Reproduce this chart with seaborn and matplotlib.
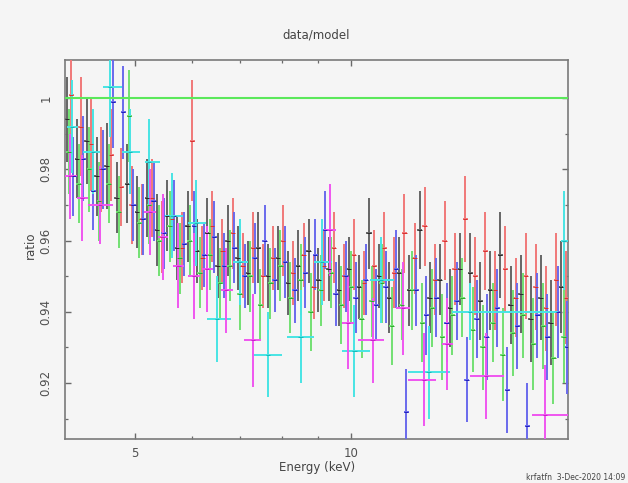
import numpy as np
import pandas as pd
import seaborn as sns
import matplotlib.pyplot as plt

# Data (energy in keV, ratio = data/model)
black_e = [4.03, 4.16, 4.29, 4.43, 4.57, 4.72, 4.88, 5.04, 5.20, 5.37,
           5.55, 5.73, 5.92, 6.11, 6.31, 6.52, 6.73, 6.95, 7.18, 7.42,
           7.66, 7.91, 8.17, 8.44, 8.72, 9.00, 9.30, 9.60, 9.92, 10.24,
           10.58, 10.93, 11.29, 11.66, 12.04, 12.44, 12.85, 13.27, 13.71, 14.16,
           14.62, 15.10, 15.60, 16.11, 16.64, 17.19, 17.75, 18.34, 18.94, 19.56]
black_r = [0.994, 0.983, 0.988, 0.978, 0.981, 0.972, 0.976, 0.968, 0.972, 0.963,
           0.967, 0.958, 0.964, 0.957, 0.962, 0.953, 0.960, 0.955, 0.951, 0.958,
           0.950, 0.955, 0.948, 0.953, 0.957, 0.949, 0.952, 0.946, 0.952, 0.947,
           0.962, 0.950, 0.944, 0.951, 0.946, 0.963, 0.944, 0.949, 0.941, 0.952,
           0.951, 0.943, 0.946, 0.956, 0.942, 0.945, 0.938, 0.944, 0.937, 0.947]
black_err = [0.012, 0.011, 0.012, 0.011, 0.012, 0.010, 0.011, 0.010, 0.011, 0.010,
             0.010, 0.009, 0.010, 0.009, 0.010, 0.009, 0.010, 0.009, 0.009, 0.010,
             0.009, 0.009, 0.009, 0.010, 0.009, 0.009, 0.009, 0.010, 0.009, 0.009,
             0.010, 0.009, 0.010, 0.010, 0.010, 0.011, 0.010, 0.010, 0.011, 0.010,
             0.011, 0.011, 0.011, 0.012, 0.011, 0.011, 0.012, 0.012, 0.012, 0.013]

red_e = [4.08, 4.21, 4.35, 4.49, 4.64, 4.79, 4.95, 5.11, 5.28, 5.45,
         5.63, 5.82, 6.01, 6.21, 6.41, 6.62, 6.84, 7.06, 7.30, 7.54,
         7.78, 8.04, 8.30, 8.58, 8.86, 9.15, 9.45, 9.76, 10.08, 10.41,
         10.76, 11.11, 11.47, 11.85, 12.24, 12.64, 13.06, 13.49, 13.93, 14.39,
         14.86, 15.35, 15.85, 16.37, 16.91, 17.47, 18.04, 18.63, 19.25, 19.88]
red_r = [1.001, 0.992, 0.987, 0.980, 0.984, 0.975, 0.970, 0.966, 0.972, 0.961,
         0.966, 0.958, 0.988, 0.955, 0.964, 0.957, 0.962, 0.953, 0.958, 0.950,
         0.955, 0.960, 0.951, 0.956, 0.947, 0.953, 0.958, 0.950, 0.956, 0.948,
         0.953, 0.958, 0.951, 0.962, 0.955, 0.964, 0.949, 0.960, 0.952, 0.966,
         0.950, 0.957, 0.946, 0.952, 0.944, 0.950, 0.947, 0.941, 0.949, 0.944]
red_err = [0.015, 0.014, 0.013, 0.012, 0.013, 0.011, 0.011, 0.010, 0.011, 0.010,
           0.010, 0.010, 0.017, 0.009, 0.010, 0.009, 0.010, 0.009, 0.010, 0.009,
           0.009, 0.010, 0.009, 0.009, 0.009, 0.010, 0.010, 0.009, 0.010, 0.009,
           0.010, 0.010, 0.010, 0.011, 0.010, 0.011, 0.010, 0.011, 0.010, 0.012,
           0.011, 0.011, 0.011, 0.012, 0.011, 0.012, 0.012, 0.012, 0.013, 0.013]

green_e = [4.05, 4.18, 4.32, 4.46, 4.60, 4.75, 4.91, 5.07, 5.24, 5.41,
           5.59, 5.77, 5.96, 6.16, 6.36, 6.57, 6.78, 7.00, 7.23, 7.47,
           7.72, 7.97, 8.23, 8.50, 8.78, 9.07, 9.37, 9.68, 10.00, 10.33,
           10.67, 11.02, 11.38, 11.75, 12.14, 12.54, 12.95, 13.38, 13.82, 14.27,
           14.74, 15.22, 15.72, 16.24, 16.77, 17.32, 17.89, 18.48, 19.09, 19.72]
green_r = [0.985, 0.976, 0.980, 0.971, 0.976, 0.968, 0.995, 0.965, 0.970, 0.960,
           0.964, 0.955, 0.960, 0.951, 0.956, 0.948, 0.953, 0.945, 0.950, 0.942,
           0.948, 0.953, 0.944, 0.949, 0.940, 0.946, 0.951, 0.942, 0.947, 0.938,
           0.943, 0.948, 0.936, 0.942, 0.946, 0.937, 0.941, 0.933, 0.939, 0.944,
           0.935, 0.930, 0.937, 0.928, 0.934, 0.939, 0.931, 0.936, 0.927, 0.933]
green_err = [0.012, 0.011, 0.012, 0.011, 0.011, 0.010, 0.013, 0.010, 0.011, 0.010,
             0.010, 0.010, 0.010, 0.010, 0.010, 0.010, 0.010, 0.010, 0.010, 0.010,
             0.010, 0.010, 0.010, 0.010, 0.011, 0.010, 0.010, 0.011, 0.010, 0.011,
             0.010, 0.011, 0.011, 0.010, 0.011, 0.011, 0.011, 0.012, 0.011, 0.011,
             0.012, 0.012, 0.011, 0.013, 0.012, 0.012, 0.013, 0.012, 0.013, 0.013]

blue_e = [4.11, 4.24, 4.38, 4.52, 4.67, 4.82, 4.98, 5.14, 5.31, 5.49,
          5.67, 5.86, 6.05, 6.25, 6.45, 6.66, 6.88, 7.11, 7.34, 7.58,
          7.83, 8.09, 8.35, 8.63, 8.91, 9.20, 9.51, 9.82, 10.14, 10.47,
          10.82, 11.17, 11.54, 11.92, 12.31, 12.71, 13.13, 13.56, 14.01, 14.47,
          14.94, 15.43, 15.94, 16.46, 17.00, 17.56, 18.14, 18.73, 19.35, 19.95]
blue_r = [0.978, 0.983, 0.974, 0.980, 0.999, 0.996, 0.970, 0.966, 0.971, 0.962,
          0.967, 0.959, 0.964, 0.956, 0.961, 0.953, 0.958, 0.950, 0.955, 0.960,
          0.949, 0.954, 0.946, 0.951, 0.956, 0.963, 0.945, 0.950, 0.944, 0.949,
          0.942, 0.947, 0.952, 0.912, 0.946, 0.939, 0.944, 0.937, 0.943, 0.921,
          0.938, 0.933, 0.941, 0.918, 0.936, 0.908, 0.939, 0.933, 0.940, 0.930]
blue_err = [0.011, 0.012, 0.011, 0.011, 0.013, 0.013, 0.010, 0.010, 0.011, 0.010,
            0.010, 0.009, 0.010, 0.009, 0.010, 0.009, 0.010, 0.009, 0.010, 0.010,
            0.009, 0.010, 0.009, 0.010, 0.010, 0.011, 0.009, 0.010, 0.010, 0.010,
            0.010, 0.010, 0.011, 0.012, 0.010, 0.011, 0.011, 0.011, 0.011, 0.012,
            0.011, 0.012, 0.011, 0.012, 0.012, 0.012, 0.012, 0.012, 0.013, 0.013]

# cyan and magenta have wide bins: centre, bin low edge, bin high edge
cyan_e = [4.09, 4.37, 4.62, 4.92, 5.24, 5.64, 6.09, 6.50, 7.00, 7.66,
          8.50, 9.10, 10.10, 11.00, 12.80, 14.60, 19.76]
cyan_lo = [4.02, 4.24, 4.51, 4.80, 5.16, 5.50, 5.92, 6.30, 6.84, 7.33,
           8.15, 8.86, 9.70, 10.60, 12.00, 13.80, 19.55]
cyan_hi = [4.17, 4.47, 4.80, 5.08, 5.42, 5.84, 6.28, 6.80, 7.18, 8.00,
           8.86, 9.40, 10.60, 11.45, 13.70, 19.40, 20.00]
cyan_r = [0.992, 0.985, 1.003, 0.985, 0.982, 0.967, 0.965, 0.938, 0.954, 0.928,
          0.933, 0.954, 0.929, 0.949, 0.923, 0.940, 0.960]
cyan_err = [0.013, 0.012, 0.014, 0.012, 0.012, 0.012, 0.012, 0.012, 0.012, 0.012,
            0.013, 0.012, 0.013, 0.012, 0.013, 0.008, 0.014]

magenta_e = [4.06, 4.22, 4.47, 5.25, 5.47, 5.75, 6.04, 6.30, 6.70, 7.30,
             9.33, 9.90, 10.70, 11.80, 12.60, 13.60, 15.40, 18.60]
magenta_lo = [4.00, 4.15, 4.30, 5.15, 5.38, 5.65, 5.92, 6.20, 6.58, 7.10,
              9.15, 9.70, 10.20, 11.55, 12.00, 13.35, 14.60, 17.80]
magenta_hi = [4.15, 4.30, 4.66, 5.36, 5.56, 5.86, 6.16, 6.42, 6.84, 7.50,
              9.52, 10.10, 11.10, 12.05, 13.10, 13.85, 16.30, 20.00]
magenta_r = [0.978, 0.972, 0.970, 0.968, 0.961, 0.953, 0.950, 0.952, 0.946, 0.932,
             0.963, 0.937, 0.932, 0.941, 0.921, 0.931, 0.922, 0.911]
magenta_err = [0.012, 0.012, 0.011, 0.012, 0.012, 0.012, 0.012, 0.012, 0.012, 0.013,
               0.013, 0.013, 0.012, 0.013, 0.013, 0.013, 0.012, 0.014]

groups = ["black", "red", "green", "blue", "cyan", "magenta"]
bar_colors = {"black": "#666666", "red": "#f07878", "green": "#72e072",
              "blue": "#6a6aec", "cyan": "#48e4e4", "magenta": "#ef55ef"}
tick_colors = {"black": "#2a2a2a", "red": "#d83030", "green": "#30a830",
               "blue": "#2020b8", "cyan": "#18b8b8", "magenta": "#c820c8"}

# long-form table
rows = []
main = {"black": (black_e, black_r, black_err), "red": (red_e, red_r, red_err),
        "green": (green_e, green_r, green_err), "blue": (blue_e, blue_r, blue_err)}
for g, (e, r, err) in main.items():
    e = np.array(e)
    half = np.gradient(e) * 0.25
    for i in range(len(e)):
        rows.append((g, e[i], r[i], err[i], e[i] - half[i], e[i] + half[i]))
wide = {"cyan": (cyan_e, cyan_r, cyan_err, cyan_lo, cyan_hi),
        "magenta": (magenta_e, magenta_r, magenta_err, magenta_lo, magenta_hi)}
for g, (e, r, err, lo, hi) in wide.items():
    for i in range(len(e)):
        rows.append((g, e[i], r[i], err[i], lo[i], hi[i]))
df = pd.DataFrame(rows, columns=["group", "energy", "ratio", "err", "lo", "hi"])

sns.set_style("ticks")
plt.rcParams["font.family"] = ["DejaVu Sans"]

bg = "#f5f5f5"
fig = plt.figure(figsize=(6.28, 4.83), dpi=100, facecolor=bg)
ax = fig.add_axes([65 / 628, 1 - 439 / 483, 503 / 628, 379 / 483], facecolor=bg)

for z, g in enumerate(groups):
    d = df[df["group"] == g]
    ax.errorbar(d["energy"], d["ratio"], yerr=d["err"],
                xerr=[d["energy"] - d["lo"], d["hi"] - d["energy"]],
                fmt="none", ecolor=bar_colors[g], elinewidth=1.4,
                capsize=0, zorder=2 + z)

sns.scatterplot(data=df, x="energy", y="ratio", hue="group",
                palette=tick_colors, marker="_", s=9, linewidth=0.7,
                legend=False, ax=ax, zorder=10)

ax.axhline(1.0, color="#5be85b", lw=1.5, zorder=12)

ax.set_xscale("log")
ax.set_xlim(4.0, 20.0)
ax.set_ylim(0.9043, 1.0107)
ax.set_xticks([5, 10])
ax.set_xticklabels(["5", "10"])
ax.set_xticks([6, 7, 8, 9], minor=True)
ax.set_xticklabels([], minor=True)
ax.set_yticks([0.92, 0.94, 0.96, 0.98, 1.0])
ax.set_yticklabels(["0.92", "0.94", "0.96", "0.98", "1"], rotation=90, va="center")
ax.set_yticks([0.91, 0.93, 0.95, 0.97, 0.99], minor=True)
ax.set_xlabel("")
ax.set_ylabel("")

for s in ax.spines.values():
    s.set_visible(True)
    s.set_color("#7a7a7a")
    s.set_linewidth(1.2)
ax.tick_params(which="both", direction="in", top=True, right=True,
               color="#6a6a6a", labelcolor="#505050", labelsize=8.5)
ax.tick_params(which="major", length=4.5, width=1.0)
ax.tick_params(which="minor", length=2.5, width=0.9)
ax.tick_params(axis="y", pad=9)
ax.tick_params(axis="x", pad=6)

fig.text(0.503, 0.927, "data/model", ha="center", va="center",
         fontsize=8.5, color="#444444")
fig.text(0.505, 0.033, "Energy (keV)", ha="center", va="center",
         fontsize=8.5, color="#444444")
fig.text(0.048, 0.493, "ratio", ha="center", va="center", rotation=90,
         fontsize=8.5, color="#444444")
fig.text(0.996, 0.011, "krfatfn  3-Dec-2020 14:09", ha="right", va="center",
         fontsize=5.5, color="#444444")

fig.savefig("out.png", dpi=100, facecolor=bg)
plt.close(fig)
